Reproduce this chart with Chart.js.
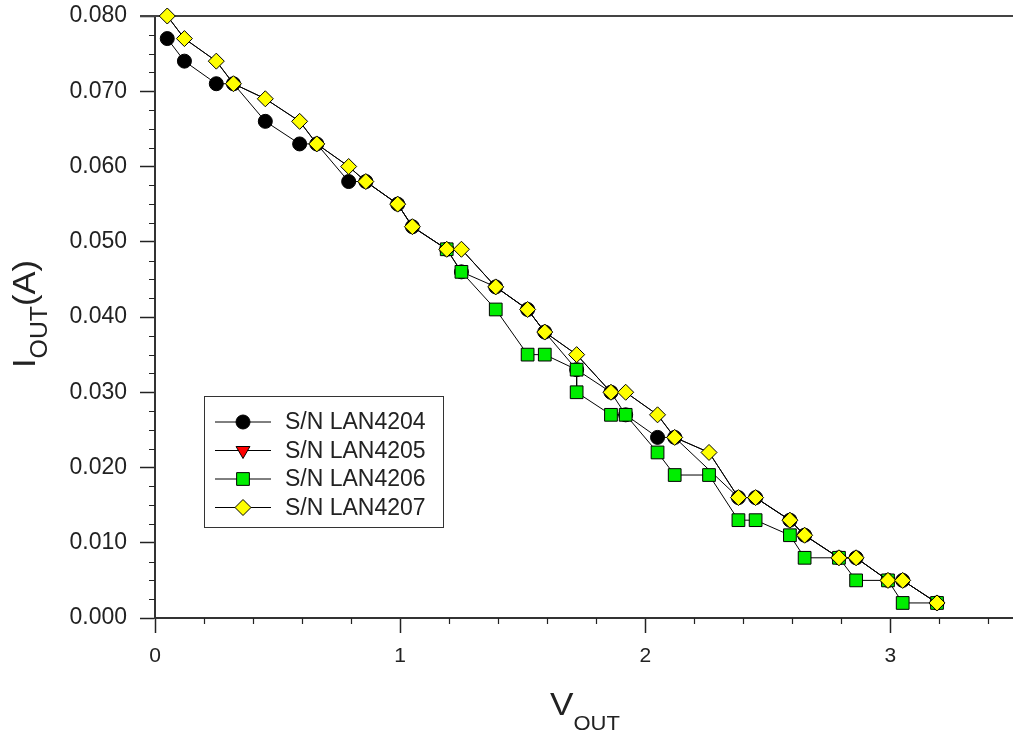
<!DOCTYPE html>
<html>
<head>
<meta charset="utf-8">
<title>IOUT vs VOUT</title>
<script src="https://cdn.jsdelivr.net/npm/chart.js@4.4.1/dist/chart.umd.min.js"></script>
<style>
  html, body { margin: 0; padding: 0; background: #fff; }
  #wrap { position: relative; width: 1013px; height: 740px; overflow: hidden; }
  #ivchart { position: absolute; left: 0; top: 0; }
  .axis-title { position: absolute; font-family: "Liberation Sans", Arial, sans-serif; color: #222; white-space: nowrap; line-height: 1; }
  #ytitle { font-size: 32px; left: 8px; top: 368px; transform-origin: 0 0; transform: rotate(-90deg) scaleX(1.08); }
  #ytitle sub { font-size: 23px; vertical-align: -12px; }
  #xtitle { font-size: 32px; left: 550px; top: 688px; transform-origin: 0 0; transform: scaleX(1.1); }
  #xtitle sub { font-size: 20px; vertical-align: -15px; }
</style>
</head>
<body>
<div id="wrap">
  <canvas id="ivchart" width="1013" height="740"></canvas>
  <div class="axis-title" id="ytitle">I<sub>OUT</sub>(A)</div>
  <div class="axis-title" id="xtitle">V<sub>OUT</sub></div>
</div>
<script>
// output voltage (V) / output current (A) per unit
let v4204 = [0.05, 0.12, 0.25, 0.32, 0.45, 0.59, 0.66, 0.79, 0.86, 0.99, 1.05, 1.19, 1.25, 1.39, 1.52, 1.59, 1.72, 1.86, 1.92, 2.05, 2.12, 2.38, 2.45, 2.59, 2.65, 2.79, 2.86, 2.99, 3.05, 3.19];
let i4204 = [0.077, 0.074, 0.071, 0.071, 0.066, 0.063, 0.063, 0.058, 0.058, 0.055, 0.052, 0.049, 0.046, 0.044, 0.041, 0.038, 0.033, 0.030, 0.027, 0.024, 0.024, 0.016, 0.016, 0.013, 0.011, 0.008, 0.008, 0.005, 0.005, 0.002];

// LAN4205 is never visible, it sits under LAN4207
let v4205 = [0.05, 0.12, 0.25, 0.32, 0.45, 0.59, 0.66, 0.79, 0.86, 0.99, 1.05, 1.19, 1.25, 1.39, 1.52, 1.59, 1.72, 1.86, 1.92, 2.05, 2.12, 2.26, 2.38, 2.45, 2.59, 2.65, 2.79, 2.86, 2.99, 3.05, 3.19];
let i4205 = [0.080, 0.077, 0.074, 0.071, 0.069, 0.066, 0.063, 0.060, 0.058, 0.055, 0.052, 0.049, 0.049, 0.044, 0.041, 0.038, 0.035, 0.030, 0.030, 0.027, 0.024, 0.022, 0.016, 0.016, 0.013, 0.011, 0.008, 0.008, 0.005, 0.005, 0.002];

let v4206 = [1.19, 1.25, 1.39, 1.52, 1.59, 1.72, 1.72, 1.86, 1.92, 2.05, 2.12, 2.26, 2.38, 2.45, 2.59, 2.65, 2.79, 2.86, 2.99, 3.05, 3.19];
let i4206 = [0.049, 0.046, 0.041, 0.035, 0.035, 0.033, 0.030, 0.027, 0.027, 0.022, 0.019, 0.019, 0.013, 0.013, 0.011, 0.008, 0.008, 0.005, 0.005, 0.002, 0.002];

let v4207 = [0.05, 0.12, 0.25, 0.32, 0.45, 0.59, 0.66, 0.79, 0.86, 0.99, 1.05, 1.19, 1.25, 1.39, 1.52, 1.59, 1.72, 1.86, 1.92, 2.05, 2.12, 2.26, 2.38, 2.45, 2.59, 2.65, 2.79, 2.86, 2.99, 3.05, 3.19];
let i4207 = [0.080, 0.077, 0.074, 0.071, 0.069, 0.066, 0.063, 0.060, 0.058, 0.055, 0.052, 0.049, 0.049, 0.044, 0.041, 0.038, 0.035, 0.030, 0.030, 0.027, 0.024, 0.022, 0.016, 0.016, 0.013, 0.011, 0.008, 0.008, 0.005, 0.005, 0.002];

let seriesNames = ["S/N LAN4204", "S/N LAN4205", "S/N LAN4206", "S/N LAN4207"];

const FONT = '"Liberation Sans", Arial, sans-serif';

function toPoints(vs, is) {
  return vs.map((v, k) => ({ x: v, y: is[k] }));
}

function series(name, vs, is, fill, style, radius, order, rotation) {
  return {
    label: name,
    data: toPoints(vs, is),
    borderColor: "#000",
    borderWidth: 1,
    tension: 0,
    pointStyle: style,
    pointRotation: rotation || 0,
    pointRadius: radius,
    pointBackgroundColor: fill,
    pointBorderColor: "#000",
    pointBorderWidth: 1,
    clip: false,
    order: order,
  };
}

// minor ticks + top frame line
const axisExtras = {
  id: "axisExtras",
  beforeDatasetsDraw(chart) {
    const c = chart.ctx;
    const xs = chart.scales.x, ys = chart.scales.y;
    const a = chart.chartArea;
    c.save();
    c.strokeStyle = "#222";
    c.lineWidth = 1.2;
    c.beginPath();
    for (let k = 1; k < 32; k++) {
      if (k % 4 == 0) continue;
      const py = Math.round(ys.getPixelForValue(k * 0.0025)) + 0.5;
      c.moveTo(a.left, py);
      c.lineTo(a.left - 6, py);
    }
    for (let k = 1; k < 18; k++) {
      if (k % 5 == 0) continue;
      const px = Math.round(xs.getPixelForValue(k * 0.2)) + 0.5;
      c.moveTo(px, a.bottom);
      c.lineTo(px, a.bottom + 6);
    }
    c.stroke();
    c.strokeStyle = "#444";
    c.lineWidth = 2;
    c.beginPath();
    c.moveTo(a.left - 15, a.top);
    c.lineTo(chart.width, a.top);
    c.stroke();
    c.restore();
  },
};

// framed legend inside the plot, lower left
const legendRadius = [7, 8, 9, 8];
const boxLegend = {
  id: "boxLegend",
  afterDraw(chart) {
    const c = chart.ctx;
    c.save();
    c.fillStyle = "#fff";
    c.fillRect(204, 396, 239, 131);
    c.strokeStyle = "#333";
    c.lineWidth = 1;
    c.strokeRect(204.5, 396.5, 239, 131);
    chart.data.datasets.forEach((ds, i) => {
      const y = 422 + i * 28.5;
      c.strokeStyle = "#000";
      c.lineWidth = 1;
      c.beginPath();
      c.moveTo(215, y);
      c.lineTo(271, y);
      c.stroke();
      c.fillStyle = ds.pointBackgroundColor;
      c.strokeStyle = "#000";
      Chart.helpers.drawPoint(c, {
        pointStyle: ds.pointStyle,
        rotation: ds.pointRotation,
        radius: legendRadius[i],
        borderWidth: 1,
      }, 243, y);
      c.fillStyle = "#222";
      c.font = "23px " + FONT;
      c.textAlign = "left";
      c.textBaseline = "middle";
      c.fillText(ds.label, 285, y + 1);
    });
    c.restore();
  },
};

const axisGrid = {
  drawOnChartArea: false,
  drawTicks: true,
  tickLength: 15,
  tickColor: "#222",
  tickWidth: 1.5,
};

new Chart(document.getElementById("ivchart"), {
  type: "line",
  data: {
    datasets: [
      series(seriesNames[0], v4204, i4204, "#000000", "circle", 7, 4),
      series(seriesNames[1], v4205, i4205, "#ff0000", "triangle", 5, 3, 180),
      series(seriesNames[2], v4206, i4206, "#00ee00", "rect", 9, 2),
      series(seriesNames[3], v4207, i4207, "#ffff00", "rectRot", 8, 1),
    ],
  },
  options: {
    responsive: false,
    animation: false,
    layout: { autoPadding: false, padding: { top: 16, right: 0, left: 0, bottom: 0 } },
    plugins: {
      legend: { display: false },
      tooltip: { enabled: false },
    },
    scales: {
      x: {
        type: "linear",
        min: 0,
        max: 3.5,
        afterFit(s) {
          s.height = 122;
          s.paddingLeft = 0;
          s.paddingRight = 0;
        },
        ticks: {
          stepSize: 1,
          includeBounds: false,
          padding: 11,
          color: "#222",
          font: { family: FONT, size: 21 },
          callback: (v) => String(v),
        },
        grid: axisGrid,
        border: { display: true, color: "#333", width: 2 },
      },
      y: {
        type: "linear",
        min: 0,
        max: 0.08,
        afterFit(s) {
          s.width = 155;
          s.paddingTop = 0;
          s.paddingBottom = 0;
        },
        ticks: {
          stepSize: 0.01,
          padding: 13,
          color: "#222",
          font: { family: FONT, size: 23 },
          callback: (v) => v.toFixed(3),
        },
        grid: axisGrid,
        border: { display: true, color: "#333", width: 2 },
      },
    },
  },
  plugins: [axisExtras, boxLegend],
});
</script>
</body>
</html>
